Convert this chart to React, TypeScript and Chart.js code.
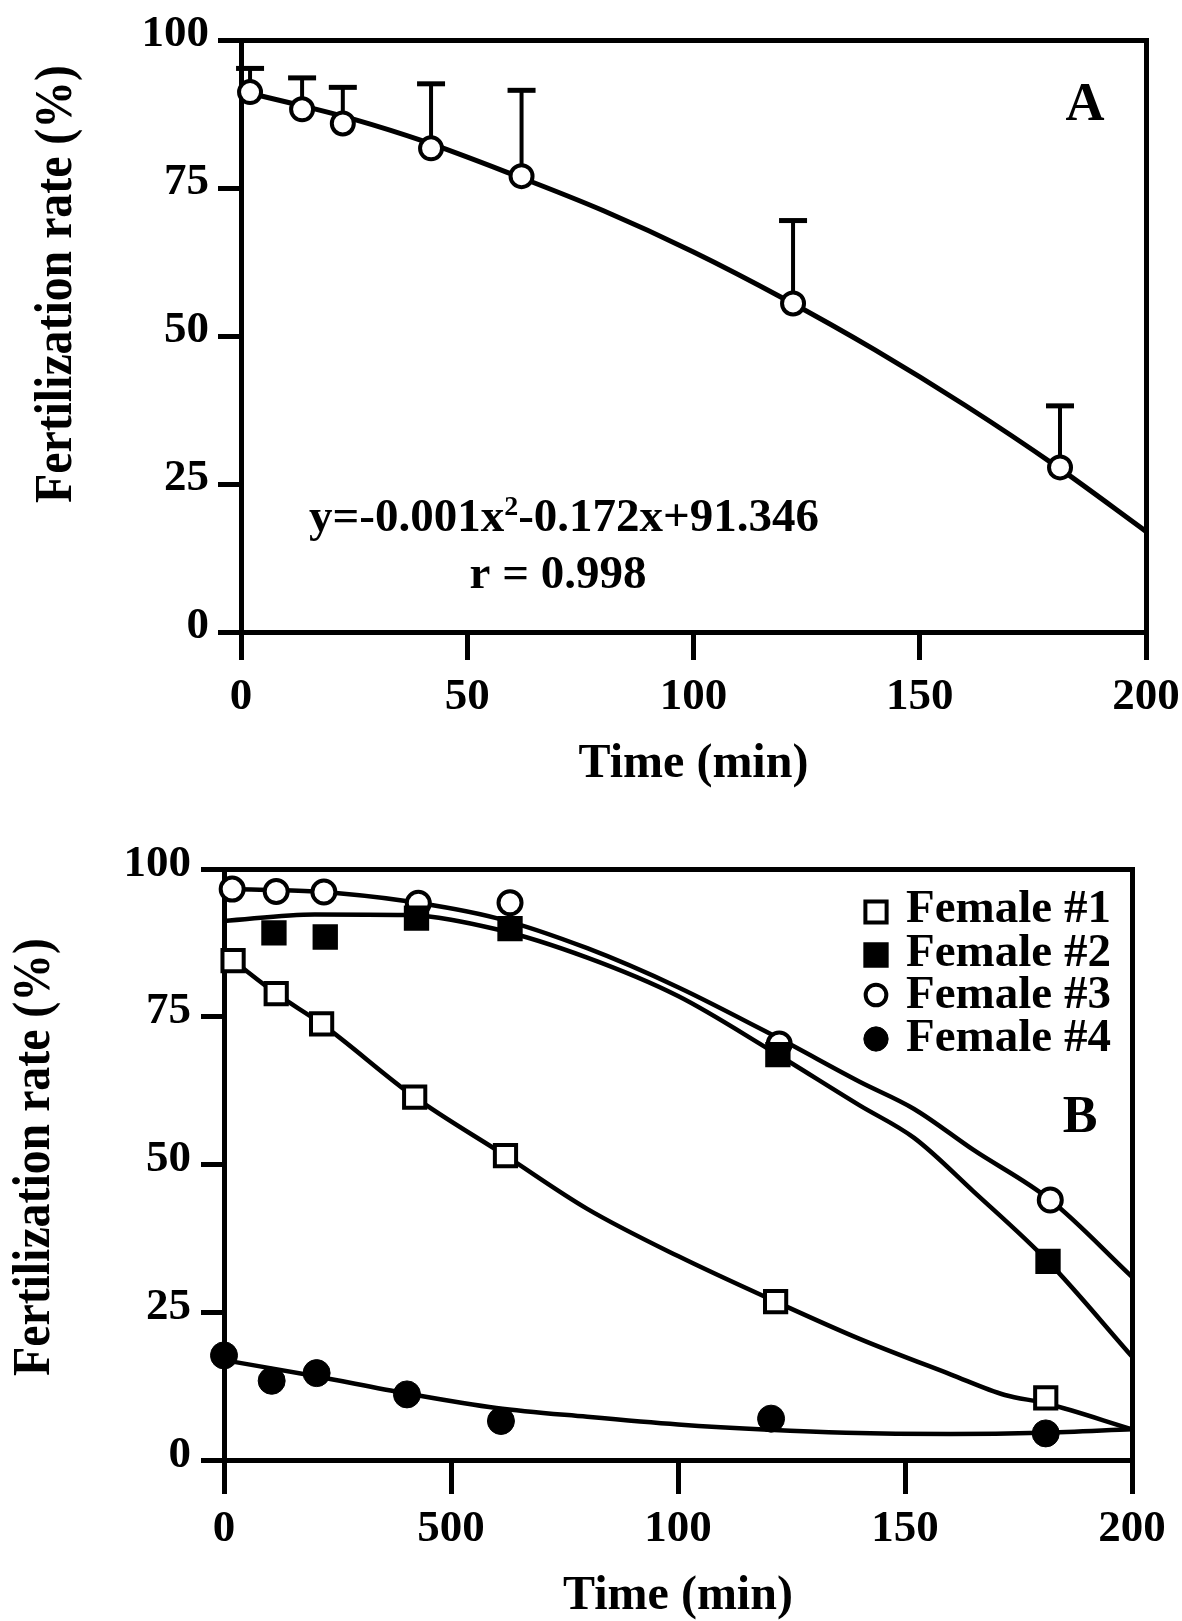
import React, { useEffect, useRef } from 'react';
import { Chart, registerables } from 'chart.js';

Chart.register(...registerables);

const SERIF = '"Liberation Serif", "Times New Roman", Times, serif';
const INK = '#000000';

// ---------------- Panel A data ----------------
const aTime = [2, 13.5, 22.5, 42, 62, 122, 181];
const aRate = [91.2, 88.3, 85.9, 81.7, 77.0, 55.5, 27.8];
const aUpper = [95.2, 93.6, 92.0, 92.6, 91.5, 69.5, 38.2];
const aFitTime = [2, 15, 25, 40, 60, 80, 100, 120, 140, 160, 180, 200];
const aFitRate = [91.0, 88.6, 86.6, 83.0, 77.3, 71.2, 64.2, 56.3, 47.7, 38.3, 28.1, 17.0];
const aXTickLabels = ['0', '50', '100', '150', '200'];
const yTickLabels = ['0', '25', '50', '75', '100'];
const aEquationParts = ['y=-0.001x', '2', '-0.172x+91.346'];
const aCorrelation = 'r = 0.998';

// ---------------- Panel B data ----------------
const bTime1 = [2, 11.5, 21.5, 42, 62, 121.5, 181];
const bRate1 = [84.5, 78.9, 73.8, 61.4, 51.5, 26.8, 10.5];
const bTime2 = [11, 22.3, 42.4, 63, 122, 181.5];
const bRate2 = [89.2, 88.5, 91.7, 89.9, 68.6, 33.6];
const bTime3 = [1.8, 11.5, 22, 42.8, 63, 122.3, 182];
const bRate3 = [96.6, 96.2, 96.1, 94.2, 94.3, 70.4, 44.0];
const bTime4 = [0, 10.5, 20.4, 40.3, 61, 120.5, 181];
const bRate4 = [17.7, 13.4, 14.7, 11.1, 6.6, 7.0, 4.5];

const bFit1Time = [2, 11.5, 21.5, 42, 62, 80, 100, 121.5, 140, 160, 172, 181, 200];
const bFit1Rate = [84.5, 78.9, 73.8, 61.4, 51.5, 42.5, 34.5, 26.8, 20.5, 14.5, 11.0, 9.6, 5.2];
const bFit2Time = [0, 20, 40, 60, 80, 100, 120, 140, 152, 165, 181.5, 200];
const bFit2Rate = [91.2, 92.3, 92.2, 89.8, 85.0, 78.5, 69.5, 60.0, 54.5, 45.5, 33.6, 17.5];
const bFit3Time = [1.8, 20, 40, 60, 80, 100, 122.3, 140, 152, 165, 182, 200];
const bFit3Rate = [96.6, 96.2, 94.6, 91.7, 86.6, 80.0, 71.3, 64.0, 59.4, 52.5, 44.0, 31.0];
const bFit4Time = [0, 20, 40, 60, 80, 100, 120, 137, 160, 180, 200];
const bFit4Rate = [16.9, 14.2, 11.3, 8.8, 7.3, 6.0, 5.1, 4.6, 4.4, 4.6, 5.2];

const bXTickLabels = ['0', '500', '100', '150', '200'];
const bLegendLabels = ['Female #1', 'Female #2', 'Female #3', 'Female #4'];

const yTitle = 'Fertilization rate (%)';
const xTitle = 'Time (min)';

const pts = (xs: number[], ys: number[]) => xs.map((x, i) => ({ x, y: ys[i] }));

function makeScales(o: {
  xLabels: string[];
  yWidth: number;
  xHeight: number;
  xTickLen: number;
  yTickLen: number;
  xPad: number;
  yPad: number;
  yLabelOffset: number;
}) {
  const tickFont = { family: SERIF, size: 45, weight: 'bold' as const };
  return {
    x: {
      type: 'linear',
      position: 'bottom',
      min: 0,
      max: 200,
      ticks: {
        stepSize: 50,
        autoSkip: false,
        maxRotation: 0,
        minRotation: 0,
        padding: o.xPad,
        color: INK,
        font: tickFont,
        callback: (_v: any, i: number) => o.xLabels[i],
      },
      grid: {
        display: true,
        drawOnChartArea: false,
        drawTicks: true,
        tickLength: o.xTickLen,
        tickWidth: 5,
        tickColor: INK,
        color: INK,
        lineWidth: 5,
      },
      border: { display: true, width: 5, color: INK },
      title: {
        display: true,
        text: xTitle,
        color: INK,
        padding: 0,
        font: { family: SERIF, size: 48, weight: 'bold', lineHeight: 1 },
      },
      afterFit: (s: any) => {
        s.height = o.xHeight;
        s.paddingLeft = 0;
        s.paddingRight = 0;
      },
    },
    y: {
      type: 'linear',
      position: 'left',
      min: 0,
      max: 100,
      ticks: {
        stepSize: 25,
        padding: o.yPad,
        labelOffset: o.yLabelOffset,
        color: INK,
        font: tickFont,
        callback: (_v: any, i: number) => yTickLabels[i],
      },
      grid: {
        display: true,
        drawOnChartArea: false,
        drawTicks: true,
        tickLength: o.yTickLen,
        tickWidth: 5,
        tickColor: INK,
        color: INK,
        lineWidth: 5,
      },
      border: { display: true, width: 5, color: INK },
      afterFit: (s: any) => {
        s.width = o.yWidth;
        s.paddingTop = 0;
        s.paddingBottom = 0;
      },
    },
    xTop: {
      type: 'linear',
      position: 'top',
      display: true,
      ticks: { display: false },
      grid: { display: false, drawTicks: false },
      border: { display: true, width: 5, color: INK },
      afterFit: (s: any) => {
        s.height = 0;
        s.paddingLeft = 0;
        s.paddingRight = 0;
      },
    },
    yRight: {
      type: 'linear',
      position: 'right',
      display: true,
      ticks: { display: false },
      grid: { display: false, drawTicks: false },
      border: { display: true, width: 5, color: INK },
      afterFit: (s: any) => {
        s.width = 0;
        s.paddingTop = 0;
        s.paddingBottom = 0;
      },
    },
  };
}

function drawVerticalTitle(ctx: CanvasRenderingContext2D, text: string, xBase: number, yCenter: number) {
  ctx.save();
  ctx.translate(xBase, yCenter);
  ctx.rotate(-Math.PI / 2);
  ctx.fillStyle = INK;
  ctx.textAlign = 'center';
  ctx.textBaseline = 'alphabetic';
  ctx.font = `bold 53px ${SERIF}`;
  ctx.fillText(text, 0, 0, 438);
  ctx.restore();
}

const errorBarPlugin = {
  id: 'errorBarsA',
  beforeDatasetsDraw(chart: any) {
    const { ctx } = chart;
    const x = chart.scales.x;
    const y = chart.scales.y;
    ctx.save();
    ctx.strokeStyle = INK;
    ctx.lineCap = 'butt';
    aTime.forEach((t, i) => {
      const px = x.getPixelForValue(t);
      const py0 = y.getPixelForValue(aRate[i]);
      const py1 = y.getPixelForValue(aUpper[i]);
      ctx.lineWidth = 4;
      ctx.beginPath();
      ctx.moveTo(px, py0);
      ctx.lineTo(px, py1);
      ctx.stroke();
      ctx.lineWidth = 5;
      ctx.beginPath();
      ctx.moveTo(px - 14, py1);
      ctx.lineTo(px + 14, py1);
      ctx.stroke();
    });
    ctx.restore();
  },
};

const textPluginA = {
  id: 'textA',
  afterDraw(chart: any) {
    const ctx: CanvasRenderingContext2D = chart.ctx;
    ctx.save();
    ctx.fillStyle = INK;
    ctx.textBaseline = 'alphabetic';
    // panel letter
    ctx.font = `bold 54px ${SERIF}`;
    ctx.textAlign = 'center';
    ctx.fillText('A', 1085, 120);
    // equation
    const mainFont = `bold 47px ${SERIF}`;
    const supFont = `bold 28px ${SERIF}`;
    ctx.font = mainFont;
    const w1 = ctx.measureText(aEquationParts[0]).width;
    const w3 = ctx.measureText(aEquationParts[2]).width;
    ctx.font = supFont;
    const w2 = ctx.measureText(aEquationParts[1]).width;
    const start = 564 - (w1 + w2 + w3) / 2;
    ctx.textAlign = 'left';
    ctx.font = mainFont;
    ctx.fillText(aEquationParts[0], start, 531);
    ctx.font = supFont;
    ctx.fillText(aEquationParts[1], start + w1, 515);
    ctx.font = mainFont;
    ctx.fillText(aEquationParts[2], start + w1 + w2, 531);
    ctx.textAlign = 'center';
    ctx.fillText(aCorrelation, 558, 588);
    ctx.restore();
    drawVerticalTitle(ctx, yTitle, 71, 284);
  },
};

const textPluginB = {
  id: 'textB',
  afterDraw(chart: any) {
    const ctx: CanvasRenderingContext2D = chart.ctx;
    ctx.save();
    ctx.fillStyle = INK;
    ctx.textBaseline = 'alphabetic';
    ctx.font = `bold 52px ${SERIF}`;
    ctx.textAlign = 'center';
    ctx.fillText('B', 1080, 332);
    // legend
    const markerX = 876;
    const markerY = [112, 155, 195, 239];
    const textX = 906;
    const textBase = [122, 166, 208, 251];
    const legendSets = chart.data.datasets.slice(0, 4);
    legendSets.forEach((ds: any, i: number) => {
      const r = ds.pointRadius;
      ctx.lineWidth = ds.pointBorderWidth;
      ctx.strokeStyle = INK;
      ctx.fillStyle = ds.pointBackgroundColor;
      ctx.beginPath();
      if (ds.pointStyle === 'rect') {
        const h = r * Math.SQRT1_2;
        ctx.rect(markerX - h, markerY[i] - h, 2 * h, 2 * h);
      } else {
        ctx.arc(markerX, markerY[i], r * 0.9, 0, Math.PI * 2);
      }
      ctx.fill();
      ctx.stroke();
      ctx.fillStyle = INK;
      ctx.font = `bold 47px ${SERIF}`;
      ctx.textAlign = 'left';
      ctx.fillText(bLegendLabels[i], textX, textBase[i]);
    });
    ctx.restore();
    drawVerticalTitle(ctx, yTitle, 49, 357);
  },
};

function configA(): any {
  return {
    type: 'scatter',
    data: {
      datasets: [
        {
          label: 'Mean ± SD',
          data: pts(aTime, aRate),
          showLine: false,
          pointStyle: 'circle',
          pointRadius: 11,
          pointBorderWidth: 4,
          pointBackgroundColor: '#ffffff',
          pointBorderColor: INK,
          xAxisID: 'x',
          yAxisID: 'y',
          clip: false,
        },
        {
          label: 'Fit',
          data: pts(aFitTime, aFitRate),
          showLine: true,
          pointRadius: 0,
          borderColor: INK,
          borderWidth: 5,
          cubicInterpolationMode: 'monotone',
          xAxisID: 'x',
          yAxisID: 'y',
          clip: false,
        },
      ],
    },
    options: {
      responsive: false,
      animation: false,
      events: [],
      layout: { padding: { left: 0, top: 40, right: 36, bottom: 11 } },
      plugins: { legend: { display: false }, tooltip: { enabled: false } },
      scales: makeScales({
        xLabels: aXTickLabels,
        yWidth: 241,
        xHeight: 157,
        xTickLen: 28,
        yTickLen: 23,
        xPad: 10,
        yPad: 9,
        yLabelOffset: -6,
      }),
    },
    plugins: [errorBarPlugin, textPluginA],
  };
}

function pointSet(label: string, xs: number[], ys: number[], style: string, radius: number, fill: string, bw: number) {
  return {
    label,
    data: pts(xs, ys),
    showLine: false,
    pointStyle: style,
    pointRadius: radius,
    pointBorderWidth: bw,
    pointBackgroundColor: fill,
    pointBorderColor: INK,
    xAxisID: 'x',
    yAxisID: 'y',
    clip: false,
  };
}

function fitSet(label: string, xs: number[], ys: number[]) {
  return {
    label,
    data: pts(xs, ys),
    showLine: true,
    pointRadius: 0,
    borderColor: INK,
    borderWidth: 4.5,
    cubicInterpolationMode: 'monotone',
    xAxisID: 'x',
    yAxisID: 'y',
    clip: false,
  };
}

function configB(): any {
  return {
    type: 'scatter',
    data: {
      datasets: [
        pointSet(bLegendLabels[0], bTime1, bRate1, 'rect', 15, '#ffffff', 4),
        pointSet(bLegendLabels[1], bTime2, bRate2, 'rect', 16.5, INK, 2),
        pointSet(bLegendLabels[2], bTime3, bRate3, 'circle', 11.5, '#ffffff', 4),
        pointSet(bLegendLabels[3], bTime4, bRate4, 'circle', 13.5, INK, 1),
        fitSet('Fit #1', bFit1Time, bFit1Rate),
        fitSet('Fit #2', bFit2Time, bFit2Rate),
        fitSet('Fit #3', bFit3Time, bFit3Rate),
        fitSet('Fit #4', bFit4Time, bFit4Rate),
      ],
    },
    options: {
      responsive: false,
      animation: false,
      events: [],
      layout: { padding: { left: 0, top: 69, right: 50, bottom: 0 } },
      plugins: { legend: { display: false }, tooltip: { enabled: false } },
      scales: makeScales({
        xLabels: bXTickLabels,
        yWidth: 224,
        xHeight: 161,
        xTickLen: 34,
        yTickLen: 23,
        xPad: 8,
        yPad: 10,
        yLabelOffset: -5,
      }),
    },
    plugins: [textPluginB],
  };
}

function ChartCanvas({ make, top, height }: { make: () => any; top: number; height: number }) {
  const ref = useRef<HTMLCanvasElement>(null);
  useEffect(() => {
    if (!ref.current) return;
    const chart = new Chart(ref.current, make());
    return () => chart.destroy();
  }, [make]);
  return (
    <canvas
      ref={ref}
      width={1182}
      height={height}
      style={{ position: 'absolute', left: 0, top, width: 1182, height, display: 'block' }}
    />
  );
}

export default function App() {
  return (
    <div style={{ position: 'absolute', left: 0, top: 0, width: 1182, height: 1621, background: '#ffffff', overflow: 'hidden' }}>
      <ChartCanvas make={configA} top={0} height={800} />
      <ChartCanvas make={configB} top={800} height={821} />
    </div>
  );
}
